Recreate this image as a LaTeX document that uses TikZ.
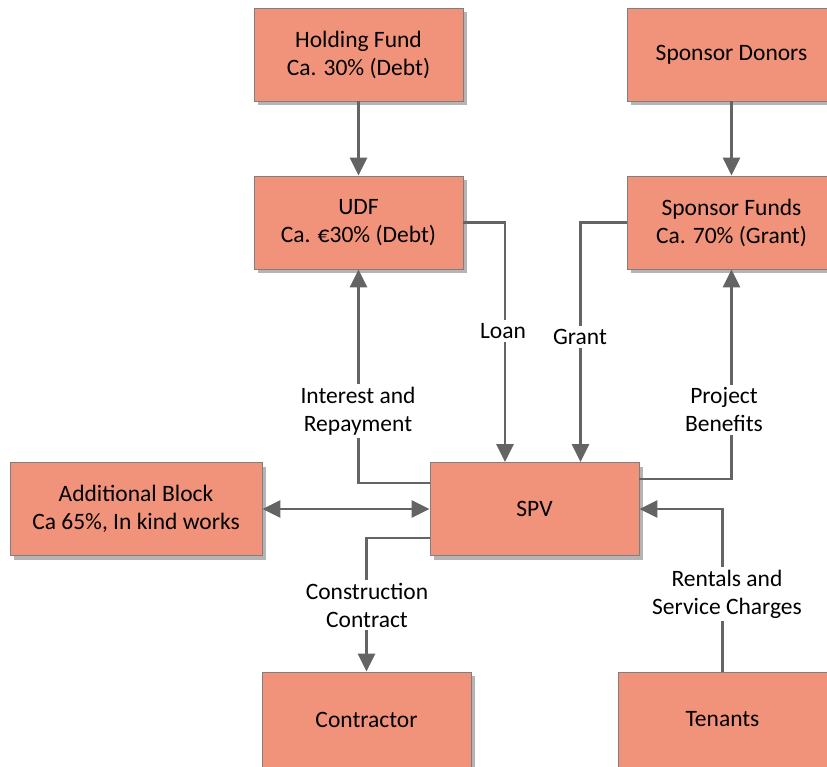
\documentclass[tikz,border=0pt]{standalone}
\usepackage{fontspec}
\setmainfont{Carlito}
\usetikzlibrary{arrows.meta,shadows}
\definecolor{boxfill}{HTML}{F0937A}
\definecolor{boxline}{HTML}{7F7F7F}
\definecolor{shadowgray}{HTML}{B4B4B4}
\definecolor{linkgray}{HTML}{646464}
\tikzset{
  tip/.tip={Triangle[length=18pt,width=17pt]},
  box/.style={rectangle, draw=boxline, line width=0.9pt, fill=boxfill,
    minimum width=209pt, minimum height=93pt, align=center,
    font=\fontsize{23.5}{28}\selectfont,
    drop shadow={shadow xshift=4pt, shadow yshift=-4pt, fill=shadowgray, opacity=1}},
  link/.style={draw=linkgray, line width=2.8pt, -tip},
  tag/.style={fill=white, align=center, inner sep=3pt,
    font=\fontsize{23.5}{28}\selectfont}
}
\begin{document}
\begin{tikzpicture}[x=1pt,y=-1pt]
  \useasboundingbox (0,0) rectangle (827,767);

  % funding sources
  \node[box] (hold) at (358.5,54.5) {Holding Fund\\Ca. 30\% (Debt)};
  \node[box] (don)  at (731.5,54.5) {Sponsor Donors};
  \node[box] (udf)  at (358.5,222.5) {UDF\\Ca. €30\% (Debt)};
  \node[box] (sf)   at (731.5,222.5) {Sponsor Funds\\Ca. 70\% (Grant)};

  % vehicle and parties
  \node[box] (spv) at (534.5,509) {SPV};
  \node[box, minimum width=252pt] (ab) at (136,509) {Additional Block\\Ca 65\%, In kind works};
  \node[box, minimum height=95pt] (con) at (366.5,719.5) {Contractor};
  \node[box, minimum height=95pt] (ten) at (722.5,719.5) {Tenants};

  % flows
  \draw[link] (hold) -- (udf);
  \draw[link] (don) -- (sf);
  \draw[link] (udf.east) -| ([xshift=-29.5pt]spv.north);
  \draw[link] (sf.west) -| ([xshift=46pt]spv.north);
  \draw[link] ([yshift=26pt]spv.west) -| (udf.south);
  \draw[link] ([yshift=30pt]spv.east) -| (sf.south);
  \draw[link, tip-tip] (ab.east) -- (spv.west);
  \draw[link] ([yshift=-29pt]spv.west) -| (con.north);
  \draw[link] (ten.north) |- (spv.east);

  % flow labels
  \node[tag] (lloan)  at (503,331) {Loan};
  \node[tag] (lgrant) at (580,337) {Grant};
  \node[tag] (lint)   at (358,411) {Interest and\\Repayment};
  \node[tag] (lben)   at (724,410) {Project\\Benefits};
  \node[tag] (lcon)   at (367,605) {Construction\\Contract};
  \node[tag] (lrent)  at (727,594) {Rentals and\\Service Charges};
\end{tikzpicture}
\end{document}
